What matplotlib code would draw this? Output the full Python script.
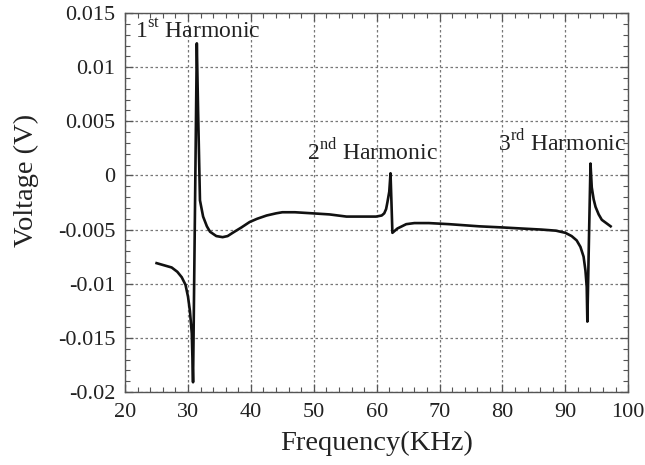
import numpy as np
import matplotlib
matplotlib.use("Agg")
import matplotlib.pyplot as plt
from matplotlib.ticker import MultipleLocator, FuncFormatter

# Frequency (KHz) and voltage (V)
freq = [25.0, 26.2, 27.4, 28.3, 29.0, 29.6, 30.0, 30.3, 30.6, 30.8,
        31.1, 31.4, 31.6, 31.9, 32.4, 33.0, 33.5, 34.5, 35.5, 36.3,
        37.1, 38.5, 39.8, 41.0, 42.5, 44.0, 45.0, 47.0, 49.8, 52.5,
        55.2, 58.0, 59.9, 60.8, 61.2, 61.5, 61.7, 62.0, 62.2, 62.35,
        62.5, 63.3, 64.7, 66.0, 68.3, 71.5, 76.3, 79.9, 83.0, 86.2,
        88.5, 90.0, 91.0, 91.8, 92.4, 92.9, 93.2, 93.4, 93.5, 93.75,
        94.0, 94.2, 94.5, 94.8, 95.3, 95.8, 96.5, 97.2]
volt = [-0.0081, -0.0083, -0.0085, -0.0089, -0.0094, -0.0101, -0.0112, -0.0125, -0.0146, -0.0191,
        -0.0035, 0.0122, 0.0060, -0.0023, -0.0038, -0.0047, -0.0052, -0.0056, -0.0057, -0.0056,
        -0.0053, -0.0048, -0.0043, -0.0040, -0.0037, -0.0035, -0.0034, -0.0034, -0.0035, -0.0036,
        -0.0038, -0.0038, -0.0038, -0.0037, -0.0035, -0.0031, -0.0025, -0.0015, 0.0002, -0.0025,
        -0.0053, -0.0049, -0.0045, -0.0044, -0.0044, -0.0045, -0.0047, -0.0048, -0.0049, -0.0050,
        -0.0051, -0.0053, -0.0056, -0.0060, -0.0066, -0.0075, -0.0088, -0.0103, -0.0135, -0.0060,
        0.0011, -0.0011, -0.0022, -0.0029, -0.0036, -0.0041, -0.0044, -0.0047]

labels = ["1$^{\\rm st}$ Harmonic", "2$^{\\rm nd}$ Harmonic", "3$^{\\rm rd}$ Harmonic"]
label_x = [21.6, 48.9, 79.3]
label_y = [0.0133, 0.0022, 0.0030]

plt.rcParams['font.family'] = ['Liberation Serif', 'DejaVu Serif']
plt.rcParams['mathtext.fontset'] = 'custom'
plt.rcParams['mathtext.rm'] = 'Liberation Serif'

fig = plt.figure(figsize=(6.45, 4.65), dpi=100)
ax = fig.add_axes([0.194, 0.157, 0.780, 0.815])

ax.plot(freq, volt, color='#111111', lw=1.9, solid_joinstyle='round')

for txt, x, y in zip(labels, label_x, label_y):
    ax.text(x, y, txt, fontsize=17, va='center', ha='left', color='#222222')

ax.set_xlim(20, 100)
ax.set_ylim(-0.02, 0.015)
ax.xaxis.set_major_locator(MultipleLocator(10))
ax.xaxis.set_minor_locator(MultipleLocator(2))
ax.yaxis.set_major_locator(MultipleLocator(0.005))
ax.yaxis.set_minor_locator(MultipleLocator(0.001))
ax.yaxis.set_major_formatter(FuncFormatter(lambda v, p: "0" if abs(v) < 1e-9 else ("%g" % round(v, 4))))

ax.grid(True, which='major', linestyle=(0, (2, 2)), color='#777777', lw=0.9)
ax.tick_params(which='both', direction='in', top=True, right=True, colors='#555555',
               labelcolor='#222222', labelsize=16)
ax.tick_params(axis='x', which='major', pad=8)
ax.tick_params(axis='y', which='major', pad=7)
ax.tick_params(which='major', length=6, width=0.9)
ax.tick_params(which='minor', length=3.5, width=0.8)
for s in ax.spines.values():
    s.set_color('#555555')
    s.set_linewidth(1.0)

ax.set_xlabel("Frequency(KHz)", fontsize=20.5, color='#222222', labelpad=6)
ax.set_ylabel("Voltage (V)", fontsize=20.5, color='#222222')
# the y label sits a little above the axes centre in the original
ax.yaxis.set_label_coords(-0.172, 0.557)

fig.savefig("out.png", dpi=100)
